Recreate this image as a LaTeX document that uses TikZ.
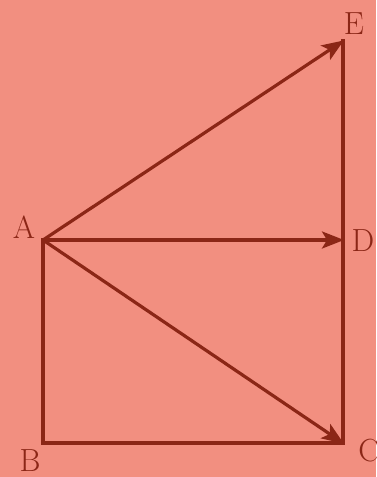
\documentclass[tikz,border=0pt]{standalone}
\usetikzlibrary{arrows.meta}
\definecolor{bg}{RGB}{242,143,128}
\definecolor{ln}{RGB}{139,38,22}
\begin{document}
\begin{tikzpicture}[x=1pt,y=-1pt,
  seg/.style={draw=ln,line width=3.2pt},
  vec/.style={seg,-{Stealth[length=22pt,width=17pt,inset=5pt]},shorten >=-1pt},
  lbl/.style={text=ln,font=\fontsize{32}{35}\selectfont,inner sep=0pt}]
\fill[bg] (0,0) rectangle (376,477);
\useasboundingbox (0,0) rectangle (376,477);
\coordinate (A) at (43,240);
\coordinate (B) at (43,443);
\coordinate (C) at (343,443);
\coordinate (D) at (343,240);
\coordinate (E) at (343,41);
\draw[seg,line cap=rect] (A) -- (B) -- (C) -- (E);
\draw[vec] (A) -- (E);
\draw[vec] (A) -- (D);
\draw[vec] (A) -- (C);
\node[lbl] (lA) at (24,227) {A};
\node[lbl] (lB) at (30,461) {B};
\node[lbl] (lC) at (369,451) {C};
\node[lbl] (lD) at (363,241) {D};
\node[lbl] (lE) at (354,24) {E};
\end{tikzpicture}
\end{document}
